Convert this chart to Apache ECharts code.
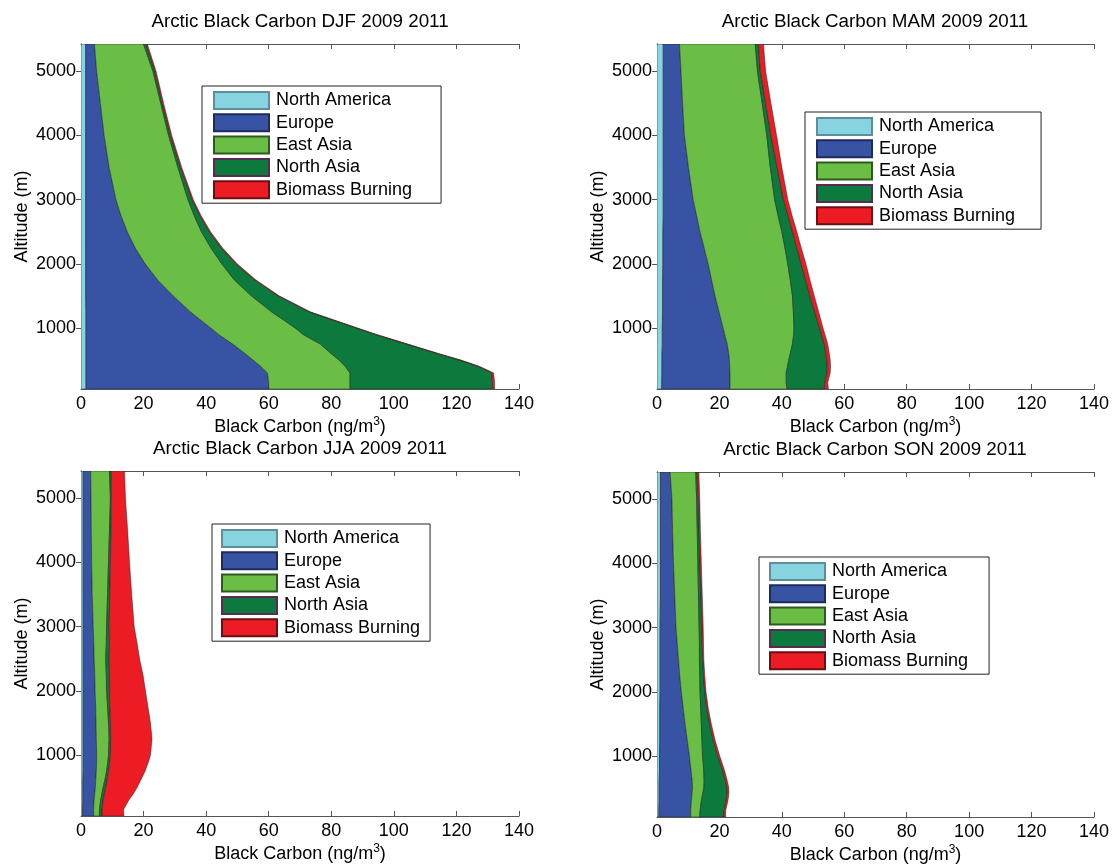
<!DOCTYPE html>
<html>
<head>
<meta charset="utf-8">
<script src="https://cdn.jsdelivr.net/npm/echarts@6/dist/echarts.min.js"></script>
<style>
html,body{margin:0;padding:0;background:#fff;}
#chart{width:1112px;height:865px;}
</style>
</head>
<body>
<div id="chart"></div>
<script>
// Altitude levels (m)
const altitudes = [50, 150, 300, 400, 500, 600, 750, 900, 1000, 1250, 1500, 1750, 2000, 2250, 2500, 2750, 3000, 3500, 4000, 4500, 5000, 5425];
const sources = ['North America', 'Europe', 'East Asia', 'North Asia', 'Biomass Burning'];
const seasonTitles = ['Arctic Black Carbon DJF 2009 2011', 'Arctic Black Carbon MAM 2009 2011',
                      'Arctic Black Carbon JJA 2009 2011', 'Arctic Black Carbon SON 2009 2011'];
const xTicks = [0, 20, 40, 60, 80, 100, 120, 140];
const yTicks = [1000, 2000, 3000, 4000, 5000];

// Contributions per source (ng/m3) at each altitude level
const djfNorthAmerica = [1.6, 1.6, 1.6, 1.6, 1.6, 1.6, 1.6, 1.6, 1.6, 1.6, 1.5, 1.5, 1.5, 1.5, 1.5, 1.5, 1.5, 1.5, 1.5, 1.5, 1.5, 1.5];
const djfEurope       = [58.4, 58.4, 58.0, 55.9, 53.4, 50.9, 46.9, 42.4, 39.9, 33.4, 28.0, 23.0, 19.0, 15.8, 13.3, 11.3, 9.7, 7.5, 5.9, 4.7, 3.5, 2.8];
const djfEastAsia     = [26.0, 26.0, 26.4, 27.0, 27.5, 27.5, 28.0, 27.0, 27.0, 26.0, 25.0, 24.5, 24.5, 24.2, 23.7, 23.4, 23.0, 22.0, 20.6, 19.3, 18.0, 15.7];
const djfNorthAsia    = [45.5, 45.5, 45.3, 42.5, 38.5, 34.0, 27.5, 23.0, 19.5, 12.0, 8.5, 6.5, 4.5, 3.3, 2.5, 1.8, 1.3, 0.8, 0.6, 0.5, 0.6, 0.8];
const djfBiomass      = [0.7, 0.7, 0.6, 0.5, 0.5, 0.5, 0.5, 0.5, 0.4, 0.4, 0.4, 0.4, 0.4, 0.4, 0.4, 0.4, 0.4, 0.4, 0.4, 0.4, 0.4, 0.4];

const mamNorthAmerica = [1.5, 1.5, 1.6, 1.6, 1.6, 1.6, 1.7, 1.7, 1.7, 1.8, 1.8, 1.8, 1.9, 1.9, 1.9, 2.0, 2.0, 2.0, 2.0, 2.0, 2.0, 2.0];
const mamEurope       = [21.9, 21.9, 21.8, 21.7, 21.6, 21.4, 20.8, 20.0, 19.5, 18.1, 16.8, 15.7, 14.5, 13.2, 11.9, 10.7, 9.6, 8.1, 6.8, 6.2, 5.7, 5.2];
const mamEastAsia     = [18.3, 18.0, 18.0, 18.5, 19.0, 19.7, 20.9, 22.1, 22.7, 23.8, 24.8, 25.2, 25.5, 25.9, 26.2, 26.1, 26.1, 26.2, 26.4, 25.5, 24.5, 24.3];
const mamNorthAsia    = [11.9, 12.4, 13.1, 12.7, 12.2, 11.4, 10.2, 8.9, 8.2, 6.8, 5.6, 4.9, 4.3, 3.8, 3.4, 3.2, 2.8, 2.2, 1.3, 1.1, 0.9, 1.0];
const mamBiomass      = [1.3, 0.9, 1.0, 1.1, 1.1, 1.1, 1.1, 1.1, 1.1, 1.3, 1.4, 1.4, 1.5, 1.4, 1.4, 1.3, 1.4, 1.5, 1.8, 1.7, 1.7, 1.6];

const jjaNorthAmerica = [0.5, 0.5, 0.6, 0.6, 0.6, 0.6, 0.7, 0.7, 0.7, 0.7, 0.7, 0.7, 0.7, 0.7, 0.7, 0.7, 0.7, 0.7, 0.7, 0.7, 0.7, 0.7];
const jjaEurope       = [3.6, 3.5, 3.6, 3.8, 4.0, 4.1, 4.2, 4.3, 4.3, 4.2, 4.1, 4.0, 3.8, 3.7, 3.5, 3.4, 3.2, 2.9, 2.7, 2.6, 2.5, 2.4];
const jjaEastAsia     = [1.8, 1.9, 2.1, 2.3, 2.5, 2.9, 3.3, 3.6, 3.8, 4.1, 4.0, 3.8, 3.7, 3.7, 3.7, 4.0, 4.3, 4.9, 5.4, 5.8, 6.2, 6.0];
const jjaNorthAsia    = [0.8, 0.8, 0.8, 0.8, 0.8, 0.7, 0.6, 0.6, 0.6, 0.5, 0.6, 0.7, 0.9, 1.0, 1.1, 1.0, 0.8, 0.7, 0.6, 0.5, 0.3, 0.6];
const jjaBiomass      = [7.0, 6.9, 8.2, 9.3, 10.1, 10.7, 11.7, 12.4, 12.8, 13.2, 12.8, 12.2, 11.5, 10.7, 9.7, 8.8, 8.0, 7.0, 6.1, 5.3, 4.5, 4.2];

const sonNorthAmerica = [0.6, 0.6, 0.7, 0.7, 0.7, 0.7, 0.8, 0.8, 0.8, 0.9, 0.9, 0.9, 1.0, 1.0, 1.0, 1.0, 1.0, 1.1, 1.1, 1.1, 1.1, 1.1];
const sonEurope       = [10.2, 10.2, 10.3, 10.5, 10.7, 10.6, 10.2, 9.8, 9.6, 8.8, 8.1, 7.5, 6.8, 6.3, 5.9, 5.5, 5.1, 4.6, 4.2, 3.9, 3.7, 3.1];
const sonEastAsia     = [2.9, 3.0, 3.2, 3.4, 3.6, 3.8, 4.0, 4.2, 4.2, 4.7, 5.2, 5.6, 6.0, 6.4, 6.7, 7.1, 7.4, 7.6, 7.8, 7.9, 7.9, 8.2];
const sonNorthAsia    = [7.8, 7.7, 7.9, 7.8, 7.4, 6.9, 6.2, 5.4, 4.9, 3.6, 2.7, 1.9, 1.5, 1.2, 1.0, 0.9, 0.9, 0.8, 0.7, 0.6, 0.6, 0.5];
const sonBiomass      = [0.5, 0.5, 0.6, 0.6, 0.6, 0.6, 0.6, 0.6, 0.6, 0.6, 0.5, 0.5, 0.4, 0.4, 0.4, 0.4, 0.4, 0.4, 0.4, 0.4, 0.4, 0.5];

const seasons = [
  [djfNorthAmerica, djfEurope, djfEastAsia, djfNorthAsia, djfBiomass],
  [mamNorthAmerica, mamEurope, mamEastAsia, mamNorthAsia, mamBiomass],
  [jjaNorthAmerica, jjaEurope, jjaEastAsia, jjaNorthAsia, jjaBiomass],
  [sonNorthAmerica, sonEurope, sonEastAsia, sonNorthAsia, sonBiomass]
];

const colors = ['#87D3E0', '#3953A4', '#6ABD45', '#0B7A3C', '#ED1C24'];
const edgeColors = ['#5d8f99', '#1d2a5c', '#2f5a1f', '#5a2a55', '#6a1014'];
const FONT = 'Liberation Sans';

const grids = [
  {left: 81, top: 44, width: 438, height: 345},
  {left: 657, top: 44, width: 437, height: 345},
  {left: 81, top: 471, width: 438, height: 345},
  {left: 657, top: 472, width: 437, height: 345}
];
const titlePos = [{x: 300, y: 12}, {x: 875, y: 12}, {x: 300, y: 439}, {x: 875, y: 440}];
const legendPos = [
  {left: 202, top: 86, padding: [5, 29, 4, 11]},
  {left: 805, top: 112, padding: [5, 26, 4, 11]},
  {left: 212, top: 524, padding: [5, 10, 4, 9]},
  {left: 759, top: 557, padding: [5, 21, 4, 10]}
];

const axisColor = '#555';
const xAxes = [], yAxes = [], series = [], titles = [], legends = [];

grids.forEach(function (g, gi) {
  xAxes.push({
    type: 'value', gridIndex: gi, position: 'bottom', min: xTicks[0], max: xTicks[xTicks.length - 1], interval: 20,
    name: 'Black Carbon (ng/m{sup|3})', nameLocation: 'middle', nameGap: 27,
    nameTextStyle: {fontFamily: FONT, fontSize: 18, color: '#000',
      rich: {sup: {fontFamily: FONT, fontSize: 12, color: '#000', verticalAlign: 'top', padding: [0, 0, 10, 0]}}},
    axisLine: {show: true, lineStyle: {color: axisColor, width: 1}},
    axisTick: {show: true, inside: true, length: 5, lineStyle: {color: axisColor}},
    axisLabel: {fontFamily: FONT, fontSize: 18, color: '#000', margin: 6},
    splitLine: {show: false}
  });
  xAxes.push({
    type: 'value', gridIndex: gi, position: 'top', min: xTicks[0], max: xTicks[xTicks.length - 1], interval: 20,
    axisLine: {show: true, lineStyle: {color: axisColor, width: 1}},
    axisTick: {show: true, inside: true, length: 5, lineStyle: {color: axisColor}},
    axisLabel: {show: false}, splitLine: {show: false}
  });
  yAxes.push({
    type: 'value', gridIndex: gi, position: 'left', min: 50, max: 5425,
    name: 'Altitude (m)', nameLocation: 'middle', nameGap: 50, nameRotate: 90,
    nameTextStyle: {fontFamily: FONT, fontSize: 18, color: '#000'},
    axisLine: {show: true, lineStyle: {color: axisColor, width: 1}},
    axisTick: {show: true, inside: true, length: 5, customValues: yTicks, lineStyle: {color: axisColor}},
    axisLabel: {fontFamily: FONT, fontSize: 18, color: '#000', margin: 5, customValues: yTicks,
      formatter: function (v) { return String(v); }},
    splitLine: {show: false}
  });
  yAxes.push({
    type: 'value', gridIndex: gi, position: 'right', min: 50, max: 5425,
    axisLine: {show: true, lineStyle: {color: axisColor, width: 1}},
    axisTick: {show: true, inside: true, length: 5, customValues: yTicks, lineStyle: {color: axisColor}},
    axisLabel: {show: false, customValues: yTicks}, splitLine: {show: false}
  });

  titles.push({
    text: seasonTitles[gi], left: titlePos[gi].x, top: titlePos[gi].y, textAlign: 'center', padding: 0,
    textStyle: {fontFamily: FONT, fontSize: 18.8, fontWeight: 'normal', color: '#000'}
  });

  legends.push({
    orient: 'vertical', left: legendPos[gi].left, top: legendPos[gi].top, padding: legendPos[gi].padding,
    data: sources, icon: 'rect', itemWidth: 55, itemHeight: 17, itemGap: 3.3,
    borderColor: '#222', borderWidth: 1, backgroundColor: '#fff', selectedMode: false,
    textStyle: {fontFamily: FONT, fontSize: 18, color: '#000', lineHeight: 17, padding: [0, 0, 0, 2]}
  });

  // build stacked edges from contributions
  const comps = seasons[gi];
  let left = altitudes.map(function () { return 0; });
  comps.forEach(function (vals, si) {
    const lo = left.slice();
    const hi = lo.map(function (v, i) { return v + vals[i]; });
    left = hi;
    series.push({
      type: 'custom', name: sources[si], coordinateSystem: 'cartesian2d',
      xAxisIndex: gi * 2, yAxisIndex: gi * 2, clip: true, silent: true,
      itemStyle: {color: colors[si], borderColor: edgeColors[si], borderWidth: 1},
      encode: {x: [0, 1], y: 2},
      data: altitudes.map(function (a, i) { return [lo[i], hi[i], a]; }),
      renderItem: function (params, api) {
        if (params.dataIndex !== 0) return null;
        const pts = [];
        for (let i = 0; i < altitudes.length; i++) pts.push(api.coord([hi[i], altitudes[i]]));
        for (let i = altitudes.length - 1; i >= 0; i--) pts.push(api.coord([lo[i], altitudes[i]]));
        return {type: 'polygon', shape: {points: pts},
          style: {fill: colors[si], stroke: '#1e1e1e', lineWidth: 0.5}};
      }
    });
  });
});

const chart = echarts.init(document.getElementById('chart'), null, {renderer: 'canvas'});
chart.setOption({
  animation: false,
  backgroundColor: '#fff',
  title: titles,
  legend: legends,
  grid: grids,
  xAxis: xAxes,
  yAxis: yAxes,
  series: series
});
</script>
</body>
</html>
